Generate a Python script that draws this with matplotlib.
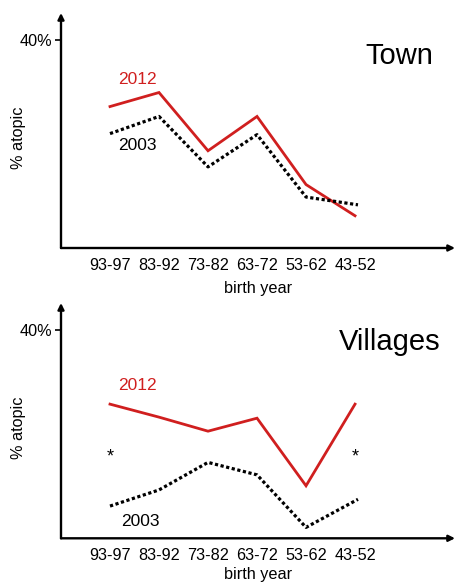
import matplotlib
matplotlib.use("Agg")
import matplotlib.pyplot as plt

plt.rcParams['font.family'] = ['Liberation Sans', 'DejaVu Sans']

birth_years = ["93-97", "83-92", "73-82", "63-72", "53-62", "43-52"]
town_2012 = [27.2, 29.9, 18.7, 25.3, 12.2, 6.2]
town_2003 = [22.0, 25.3, 15.6, 21.8, 9.8, 8.3]
villages_2012 = [25.8, 23.3, 20.6, 23.1, 10.1, 25.8]
villages_2003 = [6.2, 9.3, 14.6, 12.2, 2.1, 7.5]
villages_star_idx = [0, 5]
villages_star_y = 15.7

RED = '#d01f1f'
W, H = 456, 583
fig = plt.figure(figsize=(W / 100, H / 100), dpi=100)

def make_panel(axis_y, top_y, title, title_xy, y12, y03, lab12, lab03, xlabel_off, stars=None):
    left, right = 61, 455
    ax = fig.add_axes([left / W, 1 - axis_y / H, (right - left) / W, (axis_y - top_y) / H])
    x = list(range(len(birth_years)))
    ax.set_xlim(-1.0, 7.04)
    ax.set_ylim(0, (axis_y - top_y) / 5.2)
    for s in ax.spines.values():
        s.set_visible(False)
    ax.annotate('', xy=(1, 0), xytext=(0, 0), xycoords='axes fraction',
                arrowprops=dict(arrowstyle='-|>', lw=1.7, color='k', mutation_scale=9,
                                shrinkA=0, shrinkB=0))
    ax.annotate('', xy=(0, 1), xytext=(0, 0), xycoords='axes fraction',
                arrowprops=dict(arrowstyle='-|>', lw=1.7, color='k', mutation_scale=9,
                                shrinkA=0, shrinkB=0))
    ax.plot(x, y12, color=RED, lw=2.0, solid_joinstyle='miter')
    xd = x[:-1] + [x[-1] + 0.06]
    ax.plot(xd, y03, color='k', lw=2.3, linestyle=(0, (1, 0.8)))
    ax.set_xticks(x)
    ax.set_xticklabels(birth_years, fontsize=11.7)
    ax.tick_params(axis='x', length=0, pad=7)
    ax.set_yticks([40])
    ax.set_yticklabels(['40%'], fontsize=11.7)
    ax.tick_params(axis='y', length=4, width=1.2, pad=2)
    ax.text(*lab12, '2012', color=RED, fontsize=12.5, ha='center', va='center')
    ax.text(*lab03, '2003', color='k', fontsize=12.5, ha='center', va='center')
    ax.text(*title_xy, title, fontsize=21, ha='center', va='center')
    h = axis_y - top_y
    ax.text(-42 / 394, (axis_y - 137.5 - (top_y - 13)) / h, '% atopic', rotation=90,
            fontsize=11.7, ha='center', va='center', transform=ax.transAxes)
    ax.text(0.5, -xlabel_off / h, 'birth year', fontsize=11.7, ha='center', va='center',
            transform=ax.transAxes)
    if stars:
        for i in stars[0]:
            ax.text(x[i], stars[1], '*', fontsize=13, ha='center', va='center')
    return ax

make_panel(248, 13, 'Town', (5.9, 37.0), town_2012, town_2003,
           (0.55, 32.5), (0.55, 19.7), 40)
make_panel(538.3, 303, 'Villages', (5.7, 37.7), villages_2012, villages_2003,
           (0.55, 29.3), (0.62, 3.3), 36, stars=(villages_star_idx, villages_star_y))

fig.savefig('out.png', dpi=100)
